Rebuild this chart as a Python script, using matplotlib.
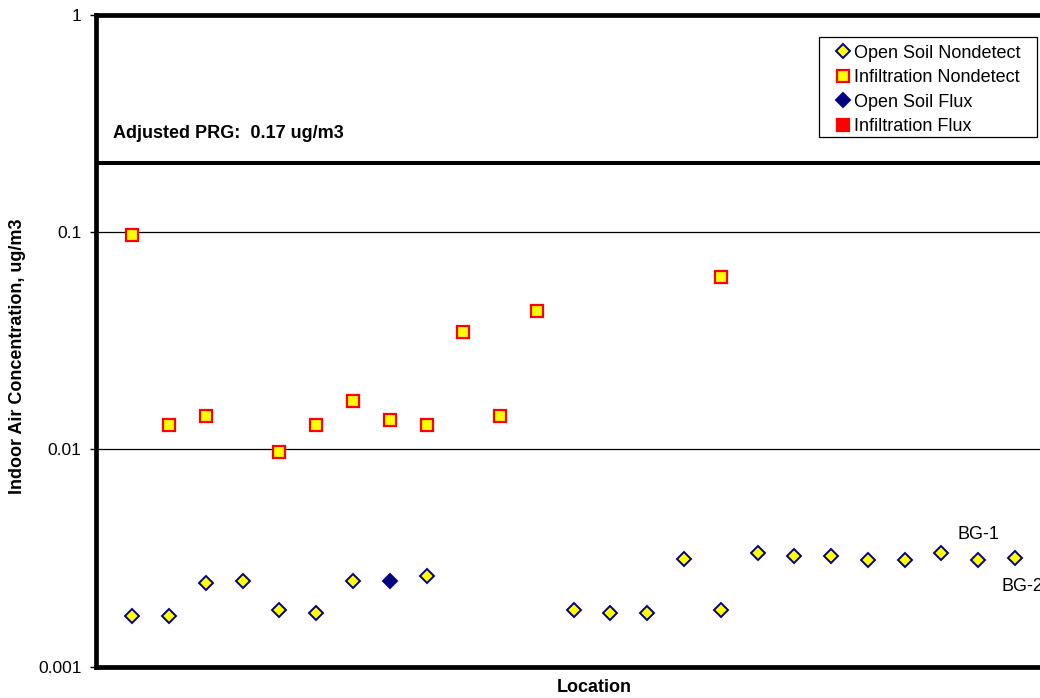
import matplotlib
matplotlib.use("Agg")
import matplotlib.pyplot as plt
from matplotlib.patches import Rectangle
from matplotlib.ticker import FixedLocator, FixedFormatter, NullLocator

plt.rcParams['font.family'] = ['Liberation Sans', 'DejaVu Sans']

# location index (1-based) and concentration, ug/m3
open_soil_nd_x = [1, 2, 3, 4, 5, 6, 7, 9, 13, 14, 15, 16, 17, 18, 19, 20, 21, 22, 23, 24, 25]
open_soil_nd_y = [0.00172, 0.00172, 0.00242, 0.00247, 0.00182, 0.00177, 0.00247, 0.00261,
                  0.00182, 0.00177, 0.00177, 0.00313, 0.00182, 0.00335, 0.00325, 0.00325,
                  0.00310, 0.00310, 0.00332, 0.00310, 0.00315]
infil_nd_x = [1, 2, 3, 5, 6, 7, 8, 9, 10, 11, 12, 17]
infil_nd_y = [0.0969, 0.0129, 0.0142, 0.00972, 0.0129, 0.0168, 0.0136, 0.0129,
              0.0348, 0.0142, 0.0434, 0.0623]
open_soil_flux_x = [8]
open_soil_flux_y = [0.00247]
infil_flux_x = []
infil_flux_y = []

bg_labels = ['BG-1', 'BG-2']
bg_x = [24, 25]
bg_y = [0.00310, 0.00315]

prg_line = 0.208
prg_text = 'Adjusted PRG:  0.17 ug/m3'
y_ticks = [0.001, 0.01, 0.1, 1]
y_ticklabels = ['0.001', '0.01', '0.1', '1']

W, H = 1040, 698
fig = plt.figure(figsize=(W / 100, H / 100), dpi=100)
ax = fig.add_axes([95.5 / W, (H - 666.7) / H, (1051.8 - 95.5) / W, (666.7 - 15) / H])

navy = '#000080'
ax.plot(open_soil_nd_x, open_soil_nd_y, ls='none', marker='D', ms=7, mfc='#FFFF00',
        mec=navy, mew=1.4, label='Open Soil Nondetect', zorder=3)
ax.plot(infil_nd_x, infil_nd_y, ls='none', marker='s', ms=9, mfc='#FFFF00',
        mec='#FF0000', mew=1.6, label='Infiltration Nondetect', zorder=3)
ax.plot(open_soil_flux_x, open_soil_flux_y, ls='none', marker='D', ms=7, mfc=navy,
        mec=navy, mew=1.4, label='Open Soil Flux', zorder=3)
ax.plot(infil_flux_x, infil_flux_y, ls='none', marker='s', ms=9, mfc='#FF0000',
        mec='#FF0000', mew=1.6, label='Infiltration Flux', zorder=3)

ax.axhline(prg_line, color='black', lw=2.9, zorder=2)

ax.set_yscale('log')
ax.set_ylim(0.001, 1)
ax.set_xlim(0, 26)
ax.yaxis.set_major_locator(FixedLocator(y_ticks))
ax.yaxis.set_major_formatter(FixedFormatter(y_ticklabels))
ax.yaxis.set_minor_locator(NullLocator())
ax.xaxis.set_major_locator(NullLocator())
ax.xaxis.set_minor_locator(NullLocator())
ax.tick_params(axis='y', length=4, width=1, direction='out', pad=6, labelsize=12.5)
ax.yaxis.grid(True, color='black', lw=0.9)
ax.set_axisbelow(True)
for s in ax.spines.values():
    s.set_linewidth(3.4)
    s.set_color('black')

for lab, x, y in zip(bg_labels, bg_x, bg_y):
    if lab == 'BG-1':
        off = (0, 18)
    else:
        off = (5.5, -20)
    ax.annotate(lab, (x, y), xytext=off, textcoords='offset points', ha='center',
                va='center', fontsize=13, annotation_clip=False)

fig.text(113 / W, 1 - 133 / H, prg_text, fontsize=13, fontweight='bold', va='center', ha='left')
fig.text(17.5 / W, 1 - 356.7 / H, 'Indoor Air Concentration, ug/m3', rotation=90,
         fontsize=13, fontweight='bold', ha='center', va='center')
fig.text(594 / W, 1 - 688 / H, 'Location', fontsize=13, fontweight='bold', ha='center', va='center')

# legend entries without frame, box drawn separately like the excel legend
box = Rectangle((819 / W, 1 - 137 / H), (1037 - 819) / W, (137 - 37) / H,
                transform=fig.transFigure, facecolor='white', edgecolor='black',
                lw=0.9, zorder=4, clip_on=False)
ax.add_patch(box)
leg = ax.legend(loc='upper left', bbox_to_anchor=(837.4 / W, 1 - 44.8 / H), bbox_transform=fig.transFigure,
                borderaxespad=0, frameon=False, fontsize=13,
                handlelength=0.62, handletextpad=0.3, labelspacing=0.41, borderpad=0,
                markerscale=0.95)
leg.set_zorder(5)

fig.savefig('out.png', dpi=100)
